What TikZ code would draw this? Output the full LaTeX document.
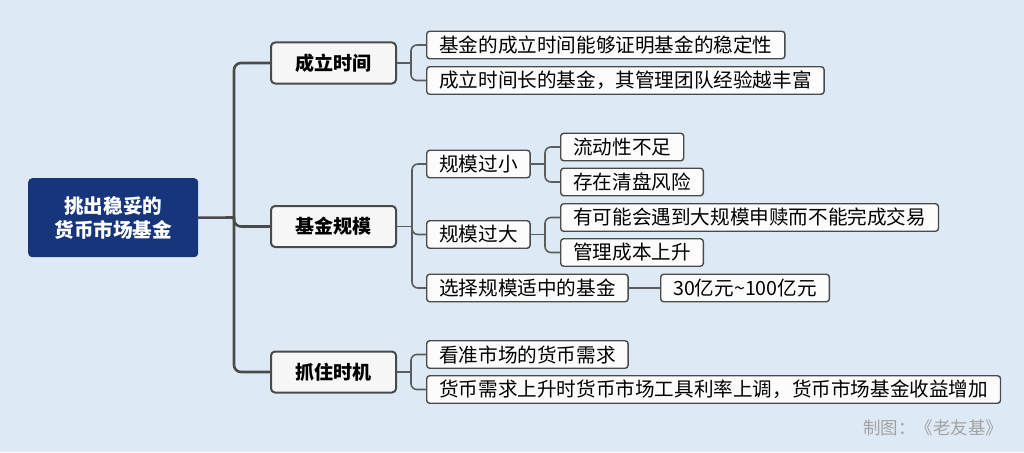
\documentclass[tikz,border=0pt]{standalone}
\usepackage{fontspec}
\setmainfont{Noto Sans CJK SC}
\definecolor{paper}{HTML}{DDEAF6}
\definecolor{navy}{HTML}{17357A}
\definecolor{edge}{HTML}{4A4A4A}
\definecolor{wire}{HTML}{5C5C5C}
\definecolor{mark}{HTML}{A3A3A3}
\begin{document}
\begin{tikzpicture}[x=1pt,y=-1pt,line cap=round,line join=round,
	rootbox/.style={fill=navy,rounded corners=4pt,minimum width=170pt,minimum height=79pt,anchor=north west,
		text=white,align=center,font=\fontsize{19.6}{24}\selectfont\bfseries},
	mainbox/.style={draw=edge,fill=white!97!black,line width=2pt,rounded corners=4pt,anchor=west,
		minimum width=125pt,minimum height=41pt,font=\fontsize{19}{22}\selectfont\bfseries},
	leaf/.style={draw=edge,fill=white!99!black,line width=1.4pt,rounded corners=3pt,anchor=west,
		inner xsep=12.5pt,inner ysep=0pt,minimum height=27.5pt,font=\fontsize{19.6}{22}\selectfont},
	trunk/.style={draw=edge,line width=2.6pt,rounded corners=7pt},
	twig/.style={draw=wire,line width=1.6pt,rounded corners=6pt}]
	\useasboundingbox[fill=paper] (0,0) rectangle (1024,452);
	% root and main branches
	\node[rootbox] (root) at (28,178) {挑出稳妥的\\货币市场基金};
	\node[mainbox] (cl) at (270,63) {成立时间};
	\node[mainbox] (gm) at (270,226.5) {基金规模};
	\node[mainbox] (zs) at (270,372) {抓住时机};
	% leaves
	\node[leaf] (cl1) at (426,45) {基金的成立时间能够证明基金的稳定性};
	\node[leaf] (cl2) at (426,80.5) {成立时间长的基金，其管理团队经验越丰富};
	\node[leaf] (gm1) at (426,164) {规模过小};
	\node[leaf] (gm2) at (426,234.5) {规模过大};
	\node[leaf] (gm3) at (426,288) {选择规模适中的基金};
	\node[leaf] (xa) at (560,147) {流动性不足};
	\node[leaf] (xb) at (560,182) {存在清盘风险};
	\node[leaf] (da) at (560,217.5) {有可能会遇到大规模申赎而不能完成交易};
	\node[leaf] (db) at (560,252.5) {管理成本上升};
	\node[leaf] (sz) at (660,288) {30亿元\textasciitilde100亿元};
	\node[leaf] (zs1) at (426,354.5) {看准市场的货币需求};
	\node[leaf] (zs2) at (426,389.5) {货币需求上升时货币市场工具利率上调，货币市场基金收益增加};
	\node[anchor=east,text=mark,font=\fontsize{17.5}{20}\selectfont] (credit) at (1007,428) {制图：《老友基》};
	% junctions
	\coordinate (t0) at (234,217.5);
	\coordinate (t1) at (411,63);
	\coordinate (t2) at (412,226.5);
	\coordinate (t3) at (545,164);
	\coordinate (t4) at (545,234.5);
	\coordinate (t5) at (411,372);
	% connectors
	\draw[trunk] (root.east) -- (t0);
	\draw[trunk] (cl.west) -| (t0) |- (zs.west);
	\draw[trunk] (t0) |- (gm.west);
	\draw[twig] (cl.east) -- (t1);
	\draw[twig] (cl1.west) -| (t1) |- (cl2.west);
	\draw[twig] (gm.east) -- (t2);
	\draw[twig] (gm1.west) -| (t2) |- (gm3.west);
	\draw[twig] (t2) |- (gm2.west);
	\draw[twig] (gm1.east) -- (t3);
	\draw[twig] (xa.west) -| (t3) |- (xb.west);
	\draw[twig] (gm2.east) -- (t4);
	\draw[twig] (da.west) -| (t4) |- (db.west);
	\draw[twig] (gm3.east) -- (sz.west);
	\draw[twig] (zs.east) -- (t5);
	\draw[twig] (zs1.west) -| (t5) |- (zs2.west);
\end{tikzpicture}
\end{document}
